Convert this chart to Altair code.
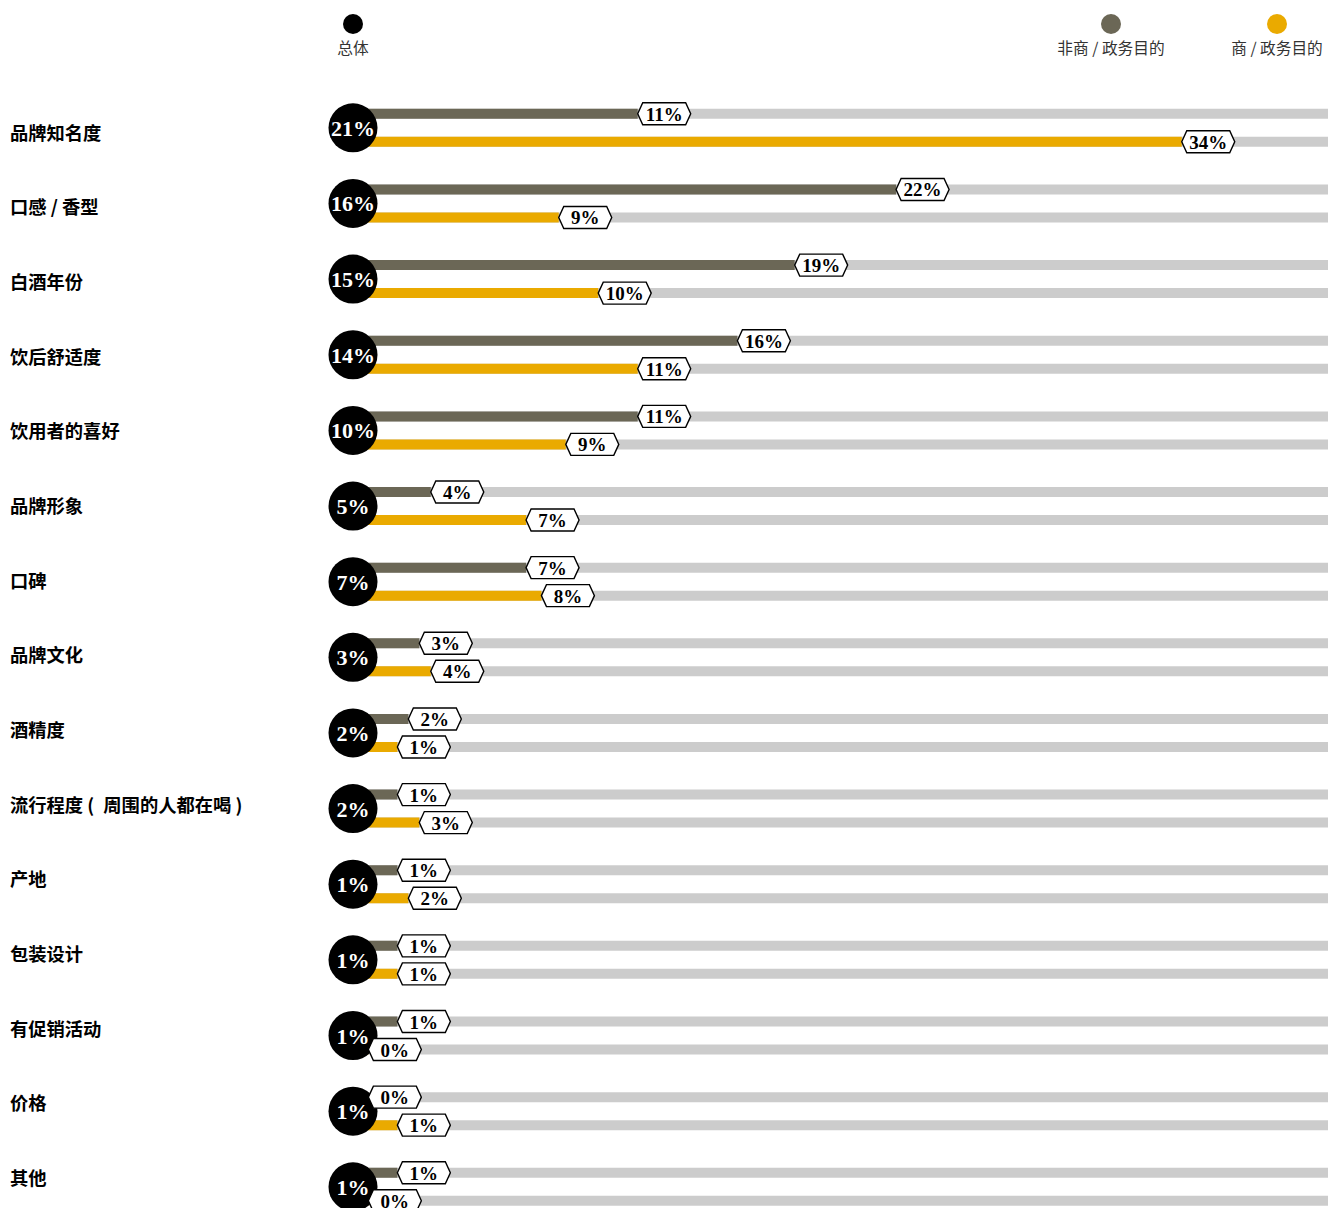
import altair as alt
import pandas as pd

# ---------------- data ----------------
categories = ["品牌知名度", "口感 / 香型", "白酒年份", "饮后舒适度", "饮用者的喜好",
              "品牌形象", "口碑", "品牌文化", "酒精度", "流行程度 (\u2002周围的人都在喝 )",
              "产地", "包装设计", "有促销活动", "价格", "其他"]

series_names = ["总体", "非商 / 政务目的", "商 / 政务目的"]
series_colors = ["#000000", "#6b6756", "#eaaa00"]

# labelled percentages
overall_pct = [21, 16, 15, 14, 10, 5, 7, 3, 2, 2, 1, 1, 1, 1, 1]
nonbiz_pct = [11, 22, 19, 16, 11, 4, 7, 3, 2, 1, 1, 1, 1, 0, 1]
biz_pct = [34, 9, 10, 11, 9, 7, 8, 4, 1, 3, 2, 1, 0, 1, 0]

# bar lengths as drawn
nonbiz_bar = [11.68, 22.28, 18.12, 15.77, 11.68, 3.19, 7.10, 2.72, 2.27, 1.82,
              1.82, 1.82, 1.82, 0.63, 1.82]
biz_bar = [34.0, 8.44, 10.06, 11.68, 8.73, 7.10, 7.73, 3.19, 1.82, 2.72,
           2.27, 1.82, 0.63, 1.82, 0.63]

track_max = 40

df = pd.DataFrame({
    "category": categories,
    "overall": [f"{v}%" for v in overall_pct],
    "nb_label": [f"{v}%" for v in nonbiz_pct],
    "b_label": [f"{v}%" for v in biz_pct],
    "nb_bar": nonbiz_bar,
    "b_bar": biz_bar,
    "track": [track_max] * len(categories),
})

# ---------------- styling ----------------
W, H = 975, 1118
STEP = 75.64
LSTEP = 74.64
N = len(categories)
xscale = alt.Scale(domain=[0, track_max], nice=False, zero=True)
yscale = alt.Scale(domain=categories, range=[0, STEP * N], paddingInner=0, paddingOuter=0)
lscale = alt.Scale(domain=categories, range=[7.5, 7.5 + LSTEP * N], paddingInner=0, paddingOuter=0)

Y = alt.Y("category:N", sort=categories, scale=yscale, axis=None)
base = alt.Chart(df).encode(y=Y)

OFF = 14
hexpath = "M0,0L0.19,-0.415L1.81,-0.415L2,0L1.81,0.415L0.19,0.415Z"
TAG_SIZE = 53 ** 2
tag_font = dict(font="Liberation Serif", fontWeight="bold", fontSize=19,
                color="#000000", align="center", baseline="middle")
X0 = alt.X(datum=0, type="quantitative", scale=xscale, axis=None)

layers = []

# category labels (own vertical rhythm)
layers.append(alt.Chart(df).mark_text(font="Noto Sans CJK SC", fontWeight="bold", fontSize=18.3,
                                      color="#000000", align="left", baseline="middle").encode(
    y=alt.Y("category:N", sort=categories, scale=lscale, axis=None),
    x=alt.value(-343), text="category:N"))

for off, barfield, col in [(-OFF, "nb_bar", series_colors[1]),
                           (OFF, "b_bar", series_colors[2])]:
    layers.append(base.mark_bar(height=10, yOffset=off, color="#cccccc").encode(
        x=alt.X("track:Q", scale=xscale, axis=None), x2=alt.datum(0)))
    layers.append(base.mark_bar(height=10, yOffset=off, color=col).encode(
        x=alt.X(f"{barfield}:Q", scale=xscale, axis=None), x2=alt.datum(0)))

circles = base.mark_circle(size=2401, color="#000000", opacity=1).encode(x=X0)
circle_text = base.mark_text(font="Liberation Serif", fontWeight="bold", fontSize=22,
                             color="#ffffff", align="center", baseline="middle", dy=1).encode(
    x=X0, text="overall:N")
layers += [circles, circle_text]

for off, barfield, labfield in [(-OFF, "nb_bar", "nb_label"), (OFF, "b_bar", "b_label")]:
    layers.append(base.mark_point(shape=hexpath, size=TAG_SIZE, filled=False, fill="#ffffff",
                                  fillOpacity=1, stroke="#000000", strokeWidth=1.4,
                                  opacity=1, yOffset=off).encode(
        x=alt.X(f"{barfield}:Q", scale=xscale, axis=None)))
    layers.append(base.mark_text(dx=26.5, yOffset=off, dy=1, **tag_font).encode(
        x=alt.X(f"{barfield}:Q", scale=xscale, axis=None), text=f"{labfield}:N"))

# legend
leg_x = [0, 758, 924]
for name, col, lx in zip(series_names, series_colors, leg_x):
    ldf = pd.DataFrame({"name": [name]})
    layers.append(alt.Chart(ldf).mark_circle(size=400, color=col, opacity=1).encode(
        x=alt.value(lx), y=alt.value(-66)))
    layers.append(alt.Chart(ldf).mark_text(font="Noto Sans CJK SC", fontSize=15.7,
                                           color="#333333", align="center",
                                           baseline="middle").encode(
        x=alt.value(lx), y=alt.value(-41), text="name:N"))

chart = alt.layer(*layers).resolve_scale(y="independent").properties(
    width=W, height=H,
    autosize=alt.AutoSizeParams(type="none"),
    padding={"left": 353, "top": 90, "right": 0, "bottom": 0},
    background="#ffffff",
).configure_view(stroke=None)

chart.save("out.html", embed_options={"renderer": "svg", "actions": False})
